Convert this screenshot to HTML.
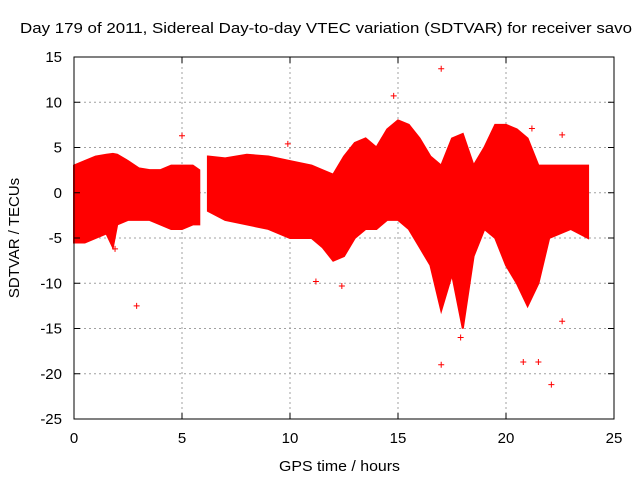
<!DOCTYPE html>
<html><head><meta charset="utf-8"><style>
body{margin:0;background:#fff;}
svg text{font-family:"Liberation Sans",sans-serif;font-size:15px;fill:#000;}
</style></head><body>
<svg width="640" height="480">
<g id="grid"></g>
<g id="data"></g>
<rect x="74" y="57" width="540" height="362" fill="none" stroke="#000"/>
<g id="ticks"></g>
<text x="20" y="33" textLength="612" lengthAdjust="spacingAndGlyphs">Day 179 of 2011, Sidereal Day-to-day VTEC variation (SDTVAR) for receiver savo</text>
<text x="279" y="471" textLength="121" lengthAdjust="spacingAndGlyphs">GPS time / hours</text>
<text transform="translate(19,238) rotate(-90)" text-anchor="middle">SDTVAR / TECUs</text>
</svg>
<script>
const xTicks=[0,5,10,15,20,25];
const yTicks=[15,10,5,0,-5,-10,-15,-20,-25];
const hours1=[0,0.5,1,1.5,1.8,2,2.5,3,3.5,4,4.5,5,5.5,5.8];
const upper1=[3,3.5,4,4.2,4.3,4.2,3.5,2.7,2.5,2.5,3,3,3,2.5];
const lower1=[-5.5,-5.5,-5,-4.5,-6,-3.5,-3,-3,-3,-3.5,-4,-4,-3.5,-3.5];
const hours2=[6.2,7,8,9,10,11,11.5,12,12.5,13,13.5,14,14.5,15,15.5,16,16.5,17,17.5,18,18.5,19,19.5,20,20.5,21,21.5,22,23,23.8];
const upper2=[4,3.8,4.2,4,3.5,3,2.5,2,4,5.5,6,5,7,8,7.5,6,4,3,6,6.5,3,5,7.5,7.5,7,6,3,3,3,3];
const lower2=[-2,-3,-3.5,-4,-5,-5,-6,-7.5,-7,-5,-4,-4,-3,-3,-4,-6,-8,-13,-9,-15,-7,-4,-5,-8,-10,-12.5,-10,-5,-4,-5];
const outX=[2.9,17,17,22.1,20.8,21.5,14.8,5,9.9,12.4,22.6,21.2,1.9,11.2,17.9,22.6];
const outY=[-12.5,13.7,-19,-21.2,-18.7,-18.7,10.7,6.3,5.4,-10.3,6.4,7.1,-6.2,-9.8,-16,-14.2];
const X=v=>74+v*21.6, Y=v=>192.75-v*9.05;
const NS='http://www.w3.org/2000/svg';
function mk(t,a,p){const e=document.createElementNS(NS,t);for(const k in a)e.setAttribute(k,a[k]);p.appendChild(e);return e;}
const grid=document.getElementById('grid'),ticks=document.getElementById('ticks'),data=document.getElementById('data');
xTicks.forEach(t=>{
 if(t>0&&t<25){const l=mk('line',{x1:X(t),x2:X(t),y1:57,y2:419,stroke:'#a0a0a0','stroke-dasharray':'2,3'},grid);
 }
 mk('line',{x1:X(t),x2:X(t),y1:419,y2:413,stroke:'#000'},ticks);
 mk('line',{x1:X(t),x2:X(t),y1:57,y2:63,stroke:'#000'},ticks);
 const tx=mk('text',{x:X(t),y:443,'text-anchor':'middle'},ticks);tx.textContent=t;
 
});
yTicks.forEach(t=>{
 if(t<15&&t>-25){const l=mk('line',{x1:74,x2:614,y1:Y(t),y2:Y(t),stroke:'#a0a0a0','stroke-dasharray':'2,3'},grid);
 }
 mk('line',{x1:74,x2:80,y1:Y(t),y2:Y(t),stroke:'#000'},ticks);
 mk('line',{x1:608,x2:614,y1:Y(t),y2:Y(t),stroke:'#000'},ticks);
 const tx=mk('text',{x:62,y:Y(t)+5,'text-anchor':'end'},ticks);tx.textContent=t;
 
});
function band(h,u,l){
 let pts=h.map((v,i)=>X(v)+','+Y(u[i]));
 for(let i=h.length-1;i>=0;i--)pts.push(X(h[i])+','+Y(l[i]));
 const p=mk('polygon',{points:pts.join(' '),fill:'#ff0000',stroke:'#ff0000','stroke-width':2},data);
 
}
band(hours1,upper1,lower1);band(hours2,upper2,lower2);
outX.forEach((v,i)=>{
 const g=mk('path',{d:`M${X(v)-3},${Y(outY[i])}h6M${X(v)},${Y(outY[i])-3}v6`,stroke:'#ff0000','stroke-width':1},data);
 
});
</script>
</body></html>
